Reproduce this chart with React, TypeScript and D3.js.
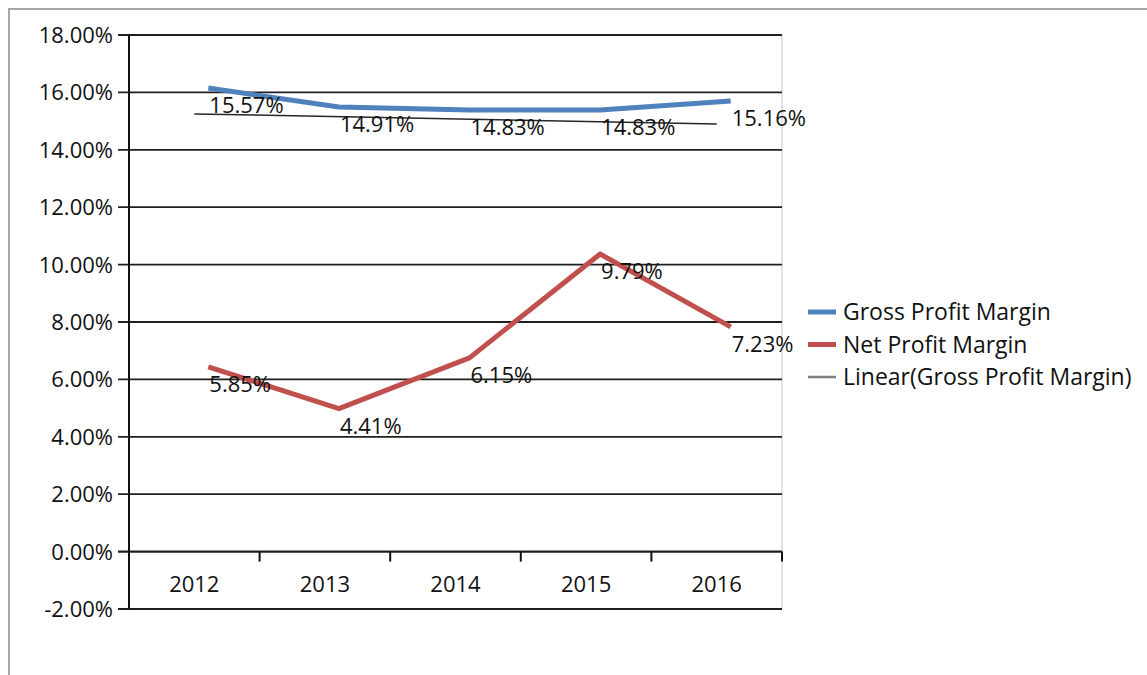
import React from "react";
import * as d3 from "d3";

const categories = ["2012", "2013", "2014", "2015", "2016"];
const grossValues = [16.15, 15.49, 15.39, 15.39, 15.7];
const netValues = [6.44, 4.98, 6.75, 10.37, 7.83];
const grossLabels = ["15.57%", "14.91%", "14.83%", "14.83%", "15.16%"];
const netLabels = ["5.85%", "4.41%", "6.15%", "9.79%", "7.23%"];
const trendValues = [15.25, 14.9];
const yTicks = [-2, 0, 2, 4, 6, 8, 10, 12, 14, 16, 18];
const legendItems = [
  { name: "Gross Profit Margin", color: "#4F81BD", width: 5 },
  { name: "Net Profit Margin", color: "#C0504D", width: 5 },
  { name: "Linear(Gross Profit Margin)", color: "#7F7F7F", width: 2.5 },
];

const W = 1147;
const H = 675;
const plot = { left: 129, right: 782, top: 35, bottom: 609 };
const seriesOffset = 14;
const FONT = "'Open Sans', sans-serif";

export default function App() {
  const x = d3.scaleBand<string>().domain(categories).range([plot.left, plot.right]);
  const y = d3.scaleLinear().domain([-2, 18]).range([plot.bottom, plot.top]);
  const cx = (c: string) => (x(c) as number) + x.bandwidth() / 2;
  const px = (i: number) => cx(categories[i]) + seriesOffset;

  const line = d3
    .line<number>()
    .x((_, i) => px(i))
    .y((v) => y(v));

  const trendLine = d3.line<[number, number]>().x((d) => d[0]).y((d) => y(d[1]))([
    [cx(categories[0]), trendValues[0]],
    [cx(categories[categories.length - 1]), trendValues[1]],
  ]);

  const fs = 22;
  const lfs = 23;
  const txt = "#111";

  return (
    <svg
      width={W}
      height={H}
      style={{ position: "absolute", left: 0, top: 0, background: "#fff" }}
      fontFamily={FONT}
    >
      {/* outer frame */}
      <line x1={8} y1={9} x2={W} y2={9} stroke="#A6A6A6" strokeWidth={2} />
      <line x1={9} y1={8} x2={9} y2={H} stroke="#A6A6A6" strokeWidth={2} />

      {/* plot right border */}
      <line x1={plot.right} y1={plot.top} x2={plot.right} y2={plot.bottom} stroke="#D9D9D9" strokeWidth={1.5} />

      {/* gridlines + y ticks */}
      {yTicks.map((t) => (
        <g key={t}>
          <line x1={118} x2={plot.right} y1={y(t)} y2={y(t)} stroke="#1f1f1f" strokeWidth={t === 0 ? 2.2 : 1.8} />
          <text x={113} y={y(t)} dy="0.36em" textAnchor="end" fontSize={fs} fill={txt}>
            {t.toFixed(2) + "%"}
          </text>
        </g>
      ))}

      {/* y axis */}
      <line x1={plot.left} x2={plot.left} y1={plot.top} y2={plot.bottom} stroke="#111" strokeWidth={2} />

      {/* x ticks at category boundaries, on the 0% line */}
      {categories.map((c) => (
        <line
          key={"tk" + c}
          x1={(x(c) as number) + x.bandwidth()}
          x2={(x(c) as number) + x.bandwidth()}
          y1={y(0)}
          y2={y(0) + 10}
          stroke="#111"
          strokeWidth={2}
        />
      ))}
      {categories.map((c) => (
        <text key={"xl" + c} x={cx(c)} y={y(0) + 40} textAnchor="middle" fontSize={fs} fill={txt}>
          {c}
        </text>
      ))}

      {/* trend line */}
      <path d={trendLine || ""} fill="none" stroke="#262626" strokeWidth={1.5} />

      {/* series */}
      <path d={line(grossValues) || ""} fill="none" stroke="#4F81BD" strokeWidth={5} strokeLinejoin="round" />
      <path d={line(netValues) || ""} fill="none" stroke="#C0504D" strokeWidth={5} strokeLinejoin="round" />

      {/* data labels */}
      {grossLabels.map((l, i) => (
        <text key={"gl" + i} x={px(i) + 1} y={y(grossValues[i]) + 25} fontSize={fs} fill={txt}>
          {l}
        </text>
      ))}
      {netLabels.map((l, i) => (
        <text key={"nl" + i} x={px(i) + 1} y={y(netValues[i]) + 25} fontSize={fs} fill={txt}>
          {l}
        </text>
      ))}

      {/* legend */}
      {legendItems.map((it, i) => {
        const ly = 312 + i * 32.5;
        return (
          <g key={it.name}>
            <line x1={808} x2={836} y1={ly} y2={ly} stroke={it.color} strokeWidth={it.width} />
            <text x={843} y={ly} dy="0.36em" fontSize={lfs} fill={txt}>
              {it.name}
            </text>
          </g>
        );
      })}
    </svg>
  );
}
